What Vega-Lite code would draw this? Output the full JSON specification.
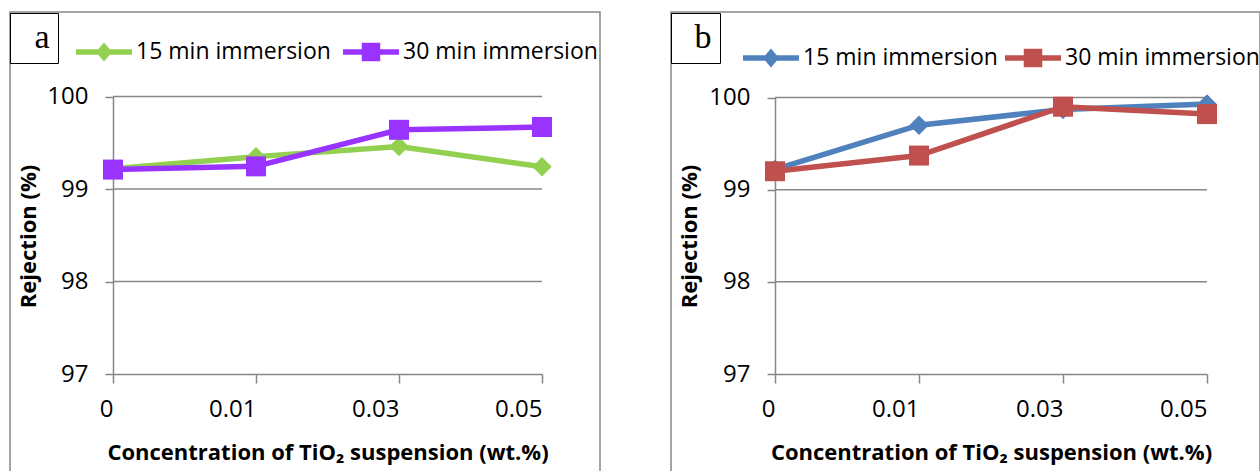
{
  "$schema": "https://vega.github.io/schema/vega-lite/v6.json",
  "padding": {"left": 8, "top": 11, "right": 0, "bottom": -16},
  "background": "white",
  "config": {
    "font": "Open Sans",
    "view": {"stroke": "#868686", "strokeWidth": 1.5},
    "axis": {"grid": false, "domainColor": "#868686", "domainWidth": 1.5, "tickColor": "#868686", "tickWidth": 1.5, "labelColor": "#000", "titleColor": "#000", "labelFont": "Open Sans", "titleFont": "Open Sans"}
  },
  "datasets": {
    "a": [
      {"conc": "0", "series": "15 min immersion", "rejection": 99.22},
      {"conc": "0.01", "series": "15 min immersion", "rejection": 99.35},
      {"conc": "0.03", "series": "15 min immersion", "rejection": 99.46},
      {"conc": "0.05", "series": "15 min immersion", "rejection": 99.24},
      {"conc": "0", "series": "30 min immersion", "rejection": 99.21},
      {"conc": "0.01", "series": "30 min immersion", "rejection": 99.245},
      {"conc": "0.03", "series": "30 min immersion", "rejection": 99.64},
      {"conc": "0.05", "series": "30 min immersion", "rejection": 99.67}
    ],
    "b": [
      {"conc": "0", "series": "15 min immersion", "rejection": 99.22},
      {"conc": "0.01", "series": "15 min immersion", "rejection": 99.7},
      {"conc": "0.03", "series": "15 min immersion", "rejection": 99.87},
      {"conc": "0.05", "series": "15 min immersion", "rejection": 99.93},
      {"conc": "0", "series": "30 min immersion", "rejection": 99.2},
      {"conc": "0.01", "series": "30 min immersion", "rejection": 99.37},
      {"conc": "0.03", "series": "30 min immersion", "rejection": 99.9},
      {"conc": "0.05", "series": "30 min immersion", "rejection": 99.82}
    ],
    "grid": [{"v": 98}, {"v": 99}, {"v": 100}],
    "label_a": [{"panel": "a"}],
    "label_b": [{"panel": "b"}]
  },
  "spacing": 68,
  "resolve": {
    "scale": {"x": "independent", "y": "independent", "color": "independent", "shape": "independent"},
    "legend": {"color": "independent", "shape": "independent"},
    "axis": {"x": "independent", "y": "independent"}
  },
  "hconcat": [
    {
      "width": 590,
      "height": 474,
      "layer": [
        {
          "data": {"name": "grid"},
          "mark": {"type": "rule", "color": "#868686", "strokeWidth": 1.5},
          "encoding": {
            "y": {"field": "v", "type": "quantitative", "title": "Rejection (%)",
              "scale": {"domain": [97, 100], "range": [362, 84.5], "zero": false, "nice": false},
              "axis": {"values": [97, 98, 99, 100], "format": "d", "offset": -103, "tickSize": 8, "labelPadding": 17, "labelFontSize": 24, "titleFontSize": 22, "titleFontWeight": "bold", "titleX": -73, "titleY": 224, "labelFlush": false, "labelOverlap": false}},
            "x": {"datum": "0", "type": "ordinal", "scale": {"type": "point", "padding": 0, "range": [103, 532], "domain": ["0", "0.01", "0.03", "0.05"]}},
            "x2": {"datum": "0.05"}
          }
        },
        {
          "data": {"name": "a"},
          "transform": [{"filter": "datum.series === '15 min immersion'"}],
          "mark": {"type": "line", "strokeWidth": 5.5},
          "encoding": {
            "x": {"field": "conc", "type": "ordinal", "title": "Concentration of TiO₂ suspension (wt.%)",
              "axis": {"offset": -112, "tickSize": 9, "labelPadding": 26, "labelAngle": 0, "labelFontSize": 24, "titleFontSize": 22, "titleFontWeight": "bold", "titleBaseline": "alphabetic", "titleY": 85}},
            "y": {"field": "rejection", "type": "quantitative", "title": "Rejection (%)"},
            "color": {"field": "series", "type": "nominal",
              "scale": {"domain": ["15 min immersion", "30 min immersion"], "range": ["#92D050", "#9933FF"]},
              "legend": {"orient": "none", "legendX": 66, "legendY": 12, "direction": "horizontal", "title": null,
                "labelFont": "Open Sans", "labelFontSize": 23, "labelColor": "#000", "labelOffset": 4, "labelLimit": 500,
                "symbolSize": 3136, "symbolStrokeWidth": 0, "columnPadding": 12,
                "encode": {"symbols": {"update": {
                  "shape": {"signal": "datum.value === '15 min immersion' ? 'M-1,-0.1H1V0.1H-1Z M0,-0.34L0.29,0L0,0.34L-0.29,0Z' : 'M-1,-0.1H1V0.1H-1Z M-0.33,-0.33H0.33V0.33H-0.33Z'"},
                  "fill": {"signal": "datum.value === '15 min immersion' ? '#92D050' : '#9933FF'"},
                  "stroke": {"value": "transparent"},
                  "opacity": {"value": 1}
                }}}}}
          }
        },
        {
          "data": {"name": "a"},
          "transform": [{"filter": "datum.series === '15 min immersion'"}],
          "mark": {"type": "point", "shape": "diamond", "filled": true, "size": 380, "opacity": 1},
          "encoding": {
            "x": {"field": "conc", "type": "ordinal"},
            "y": {"field": "rejection", "type": "quantitative", "title": "Rejection (%)"},
            "color": {"field": "series", "type": "nominal"}
          }
        },
        {
          "data": {"name": "a"},
          "transform": [{"filter": "datum.series === '30 min immersion'"}],
          "mark": {"type": "line", "strokeWidth": 5.5},
          "encoding": {
            "x": {"field": "conc", "type": "ordinal"},
            "y": {"field": "rejection", "type": "quantitative", "title": "Rejection (%)"},
            "color": {"field": "series", "type": "nominal"}
          }
        },
        {
          "data": {"name": "a"},
          "transform": [{"filter": "datum.series === '30 min immersion'"}],
          "mark": {"type": "point", "shape": "square", "filled": true, "size": 400, "opacity": 1},
          "encoding": {
            "x": {"field": "conc", "type": "ordinal"},
            "y": {"field": "rejection", "type": "quantitative", "title": "Rejection (%)"},
            "color": {"field": "series", "type": "nominal"}
          }
        },
        {
          "data": {"name": "label_a"},
          "mark": {"type": "point", "opacity": 0},
          "encoding": {
            "shape": {"field": "panel", "type": "nominal",
              "legend": {"orient": "none", "legendX": 0, "legendY": 1, "title": null, "strokeColor": "#000", "padding": 8,
                "symbolSize": 900, "symbolOpacity": 0, "symbolFillColor": "transparent", "symbolStrokeColor": "transparent", "symbolStrokeWidth": 0,
                "labelFont": "Liberation Serif", "labelFontSize": 34, "labelColor": "#000", "labelAlign": "center", "labelOffset": -10}}
          }
        }
      ]
    },
    {
      "width": 589,
      "height": 474,
      "layer": [
        {
          "data": {"name": "grid"},
          "mark": {"type": "rule", "color": "#868686", "strokeWidth": 1.5},
          "encoding": {
            "y": {"field": "v", "type": "quantitative", "title": "Rejection (%)",
              "scale": {"domain": [97, 100], "range": [362, 85.5], "zero": false, "nice": false},
              "axis": {"values": [97, 98, 99, 100], "format": "d", "offset": -104, "tickSize": 8, "labelPadding": 17, "labelFontSize": 24, "titleFontSize": 22, "titleFontWeight": "bold", "titleX": -74, "titleY": 224, "labelFlush": false, "labelOverlap": false}},
            "x": {"datum": "0", "type": "ordinal", "scale": {"type": "point", "padding": 0, "range": [104, 536], "domain": ["0", "0.01", "0.03", "0.05"]}},
            "x2": {"datum": "0.05"}
          }
        },
        {
          "data": {"name": "b"},
          "transform": [{"filter": "datum.series === '15 min immersion'"}],
          "mark": {"type": "line", "strokeWidth": 5.5},
          "encoding": {
            "x": {"field": "conc", "type": "ordinal", "title": "Concentration of TiO₂ suspension (wt.%)",
              "axis": {"offset": -112, "tickSize": 9, "labelPadding": 26, "labelAngle": 0, "labelFontSize": 24, "titleFontSize": 22, "titleFontWeight": "bold", "titleBaseline": "alphabetic", "titleY": 85}},
            "y": {"field": "rejection", "type": "quantitative", "title": "Rejection (%)"},
            "color": {"field": "series", "type": "nominal",
              "scale": {"domain": ["15 min immersion", "30 min immersion"], "range": ["#4F81BD", "#C0504D"]},
              "legend": {"orient": "none", "legendX": 72, "legendY": 18, "direction": "horizontal", "title": null,
                "labelFont": "Open Sans", "labelFontSize": 23, "labelColor": "#000", "labelOffset": 4, "labelLimit": 500,
                "symbolSize": 3136, "symbolStrokeWidth": 0, "columnPadding": 7,
                "encode": {"symbols": {"update": {
                  "shape": {"signal": "datum.value === '15 min immersion' ? 'M-1,-0.1H1V0.1H-1Z M0,-0.34L0.29,0L0,0.34L-0.29,0Z' : 'M-1,-0.1H1V0.1H-1Z M-0.33,-0.33H0.33V0.33H-0.33Z'"},
                  "fill": {"signal": "datum.value === '15 min immersion' ? '#4F81BD' : '#C0504D'"},
                  "stroke": {"value": "transparent"},
                  "opacity": {"value": 1}
                }}}}}
          }
        },
        {
          "data": {"name": "b"},
          "transform": [{"filter": "datum.series === '15 min immersion'"}],
          "mark": {"type": "point", "shape": "diamond", "filled": true, "size": 380, "opacity": 1},
          "encoding": {
            "x": {"field": "conc", "type": "ordinal"},
            "y": {"field": "rejection", "type": "quantitative", "title": "Rejection (%)"},
            "color": {"field": "series", "type": "nominal"}
          }
        },
        {
          "data": {"name": "b"},
          "transform": [{"filter": "datum.series === '30 min immersion'"}],
          "mark": {"type": "line", "strokeWidth": 5.5},
          "encoding": {
            "x": {"field": "conc", "type": "ordinal"},
            "y": {"field": "rejection", "type": "quantitative", "title": "Rejection (%)"},
            "color": {"field": "series", "type": "nominal"}
          }
        },
        {
          "data": {"name": "b"},
          "transform": [{"filter": "datum.series === '30 min immersion'"}],
          "mark": {"type": "point", "shape": "square", "filled": true, "size": 400, "opacity": 1},
          "encoding": {
            "x": {"field": "conc", "type": "ordinal"},
            "y": {"field": "rejection", "type": "quantitative", "title": "Rejection (%)"},
            "color": {"field": "series", "type": "nominal"}
          }
        },
        {
          "data": {"name": "label_b"},
          "mark": {"type": "point", "opacity": 0},
          "encoding": {
            "shape": {"field": "panel", "type": "nominal",
              "legend": {"orient": "none", "legendX": 0, "legendY": 1, "title": null, "strokeColor": "#000", "padding": 8,
                "symbolSize": 900, "symbolOpacity": 0, "symbolFillColor": "transparent", "symbolStrokeColor": "transparent", "symbolStrokeWidth": 0,
                "labelFont": "Liberation Serif", "labelFontSize": 34, "labelColor": "#000", "labelAlign": "center", "labelOffset": -10}}
          }
        }
      ]
    }
  ]
}
